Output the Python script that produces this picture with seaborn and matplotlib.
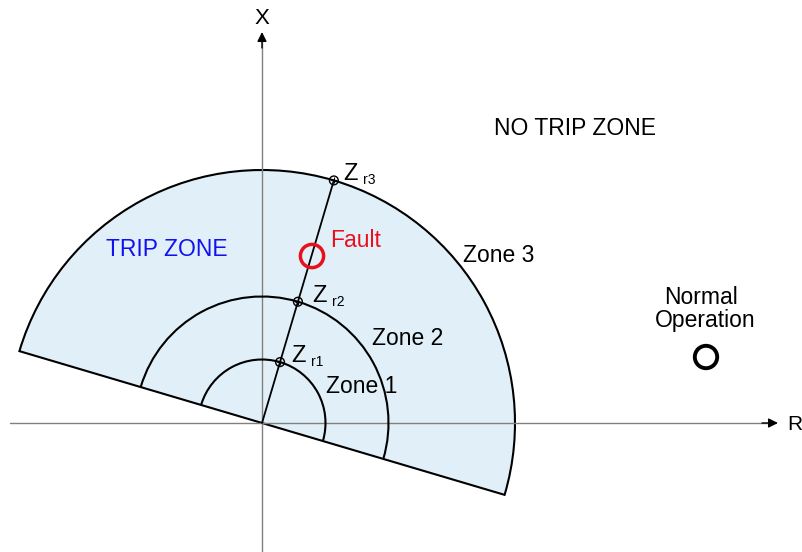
import numpy as np
import pandas as pd
import matplotlib.pyplot as plt
from matplotlib.patches import Wedge, Arc
import seaborn as sns

# Distance relay characteristic (R-X plane), units ~ pixels of the original drawing
zone_names = ['Zone 1', 'Zone 2', 'Zone 3']
zone_reach = [63.5, 126.5, 253.0]
reach_labels = ['r1', 'r2', 'r3']
boundary_angles = [-16.5, 163.5]   # directional cut-off line (deg)
line_angle = 73.5                  # line impedance angle (deg)
fault_point = [50, 167]
normal_point = [444, 66]

sns.set_theme(style="white")
plt.rcParams['font.family'] = ['Liberation Sans', 'DejaVu Sans']
plt.rcParams['text.color'] = 'black'

fig = plt.figure(figsize=(8.03, 5.52), dpi=100)
ax = fig.add_axes([0, 0, 1, 1])
ax.set_xlim(-262, 541)
ax.set_ylim(-129, 423)
ax.set_aspect('equal')
ax.axis('off')

fill_col = '#e1f0f8'
axis_col = '#808080'

# 1. R and X axes (gray lines, black arrow heads)
ax.plot([-252, 508], [0, 0], color=axis_col, lw=1.0, zorder=1)
ax.plot([0, 0], [-129, 383], color=axis_col, lw=1.0, zorder=1)
ax.annotate('', xy=(516, 0), xytext=(500, 0),
            arrowprops=dict(arrowstyle='-|>', color='black', lw=1.0,
                            mutation_scale=14, shrinkA=0, shrinkB=0), zorder=1)
ax.annotate('', xy=(0, 391), xytext=(0, 375),
            arrowprops=dict(arrowstyle='-|>', color='black', lw=1.0,
                            mutation_scale=14, shrinkA=0, shrinkB=0), zorder=1)
ax.text(0, 399, 'X', fontsize=16, ha='center', va='baseline')
ax.text(525, -7, 'R', fontsize=15, ha='left', va='baseline')

# 2. Trip zone (zone 3 half disk) and inner zone arcs
ax.add_patch(Wedge((0, 0), zone_reach[2], boundary_angles[0], boundary_angles[1],
                   facecolor=fill_col, edgecolor='black', lw=1.5, zorder=0.5))
for r in zone_reach[:2]:
    ax.add_patch(Arc((0, 0), 2 * r, 2 * r, theta1=boundary_angles[0],
                     theta2=boundary_angles[1], color='black', lw=1.5, zorder=2))

# 3. Line impedance and zone reach points
ang = np.deg2rad(line_angle)
reach = pd.DataFrame({'label': reach_labels,
                      'R': [r * np.cos(ang) for r in zone_reach],
                      'X': [r * np.sin(ang) for r in zone_reach]})
line_df = pd.DataFrame({'R': [0, reach['R'].iloc[-1]], 'X': [0, reach['X'].iloc[-1]]})
sns.lineplot(data=line_df, x='R', y='X', sort=False, color='black', lw=1.3, ax=ax, zorder=3)
sns.scatterplot(data=reach, x='R', y='X', marker='o', s=40, facecolor='none',
                edgecolor='black', linewidth=1.0, ax=ax, zorder=4)
sns.scatterplot(data=reach, x='R', y='X', marker='+', s=25, color='black',
                linewidth=0.8, ax=ax, zorder=4)

z_offsets = [11, 14, 9]
for (_, row), dx in zip(reach.iterrows(), z_offsets):
    ax.text(row['R'] + dx, row['X'], 'Z', fontsize=17, ha='left', va='baseline')
    ax.text(row['R'] + dx + 20, row['X'] - 4, row['label'], fontsize=10,
            ha='left', va='baseline')

# 4. Fault and normal operating points
sns.scatterplot(x=[fault_point[0]], y=[fault_point[1]], marker='o', s=280,
                facecolor='none', edgecolor='#e8101c', linewidth=2.5, ax=ax, zorder=5)
sns.scatterplot(x=[normal_point[0]], y=[normal_point[1]], marker='o', s=260,
                facecolor='none', edgecolor='black', linewidth=2.8, ax=ax, zorder=5)

# 5. Labels
ax.text(232, 288, 'NO TRIP ZONE', fontsize=16.5, ha='left', va='baseline')
ax.text(-156, 167, 'TRIP ZONE', fontsize=16.5, color='#1010f0', ha='left', va='baseline')
ax.text(68, 176, 'Fault', fontsize=16.5, color='#e8101c', ha='left', va='baseline')
label_pos = [(64, 30), (110, 78), (201, 161)]
for name, (x, y) in zip(zone_names, label_pos):
    ax.text(x, y, name, fontsize=16.5, ha='left', va='baseline')
ax.text(439, 119, 'Normal', fontsize=16.5, ha='center', va='baseline')
ax.text(443, 96, 'Operation', fontsize=16.5, ha='center', va='baseline')

fig.savefig('out.png', dpi=100)
